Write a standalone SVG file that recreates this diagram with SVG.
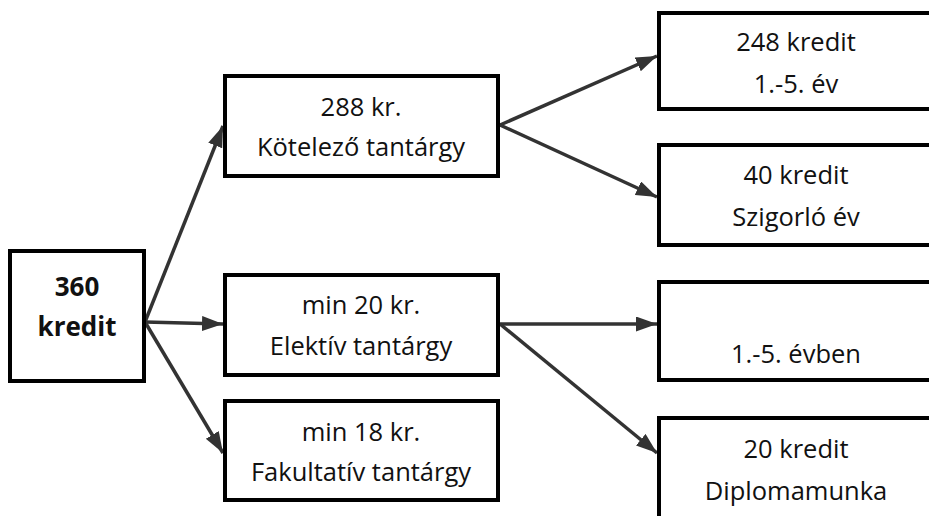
<svg xmlns="http://www.w3.org/2000/svg" width="929" height="516" viewBox="0 0 929 516">
<defs>
<style>
.box{fill:#fff;stroke:#000;stroke-width:4}
.t{font-family:"Open Sans","Noto Sans",sans-serif;font-size:25.5px;fill:#111;text-anchor:middle}
.b{font-weight:bold;font-size:26px}
.c{stroke:#333;stroke-width:3.5;fill:none;marker-end:url(#ah)}
</style>
<marker id="ah" markerUnits="userSpaceOnUse" markerWidth="22" markerHeight="16" refX="21" refY="7.5" orient="auto">
<path d="M0,0 L21,7.5 L0,15 z" fill="#333"/>
</marker>
</defs>
<rect width="929" height="516" fill="#fff"/>
<g id="connectors">
<line class="c" x1="145" y1="322" x2="223" y2="126"/>
<line class="c" x1="145" y1="322" x2="223" y2="324"/>
<line class="c" x1="145" y1="322" x2="223" y2="453"/>
<line class="c" x1="500" y1="125" x2="657" y2="56"/>
<line class="c" x1="500" y1="125" x2="657" y2="197"/>
<line class="c" x1="500" y1="324" x2="657" y2="324"/>
<line class="c" x1="500" y1="324" x2="657" y2="453"/>
</g>
<g id="n360">
<rect class="box" x="10" y="251" width="134" height="130"/>
<text class="t b" x="77" y="296">360</text>
<text class="t b" x="77" y="336">kredit</text>
</g>
<g id="nKotelezo">
<rect class="box" x="225" y="76" width="273" height="100"/>
<text class="t" x="361" y="116">288 kr.</text>
<text class="t" x="361" y="156">Kötelező tantárgy</text>
</g>
<g id="nElektiv">
<rect class="box" x="225" y="275" width="273" height="100"/>
<text class="t" x="361" y="314">min 20 kr.</text>
<text class="t" x="361" y="355">Elektív tantárgy</text>
</g>
<g id="nFakultativ">
<rect class="box" x="225" y="401" width="273" height="99"/>
<text class="t" x="361" y="441">min 18 kr.</text>
<text class="t" x="361" y="481">Fakultatív tantárgy</text>
</g>
<g id="n248">
<rect class="box" x="659" y="13" width="280" height="96"/>
<text class="t" x="796" y="51">248 kredit</text>
<text class="t" x="796" y="93">1.-5. év</text>
</g>
<g id="n40">
<rect class="box" x="659" y="145" width="280" height="100"/>
<text class="t" x="796" y="184">40 kredit</text>
<text class="t" x="796" y="226">Szigorló év</text>
</g>
<g id="nEvben">
<rect class="box" x="659" y="282" width="280" height="98"/>
<text class="t" x="796" y="363">1.-5. évben</text>
</g>
<g id="nDiploma">
<rect class="box" x="659" y="418" width="280" height="110"/>
<text class="t" x="796" y="458">20 kredit</text>
<text class="t" x="796" y="500">Diplomamunka</text>
</g>
</svg>
